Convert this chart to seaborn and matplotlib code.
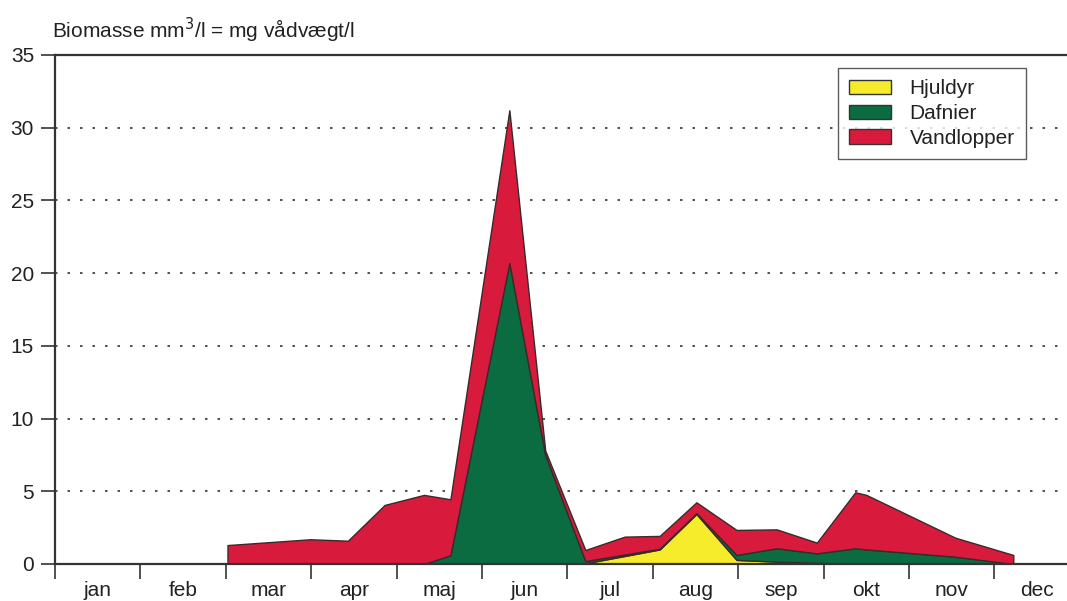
import numpy as np
import matplotlib
matplotlib.use("Agg")
import matplotlib.pyplot as plt
import seaborn as sns

# Maanedsnavne og positioner (x i maaneder fra 1. januar)
months = ["jan", "feb", "mar", "apr", "maj", "jun", "jul", "aug", "sep", "okt", "nov", "dec"]

sample_month = [0.0, 2.02, 2.02, 2.99, 3.43, 3.86, 4.32, 4.63, 5.32, 5.74, 6.21,
                6.67, 7.08, 7.51, 7.98, 8.45, 8.92, 9.37, 9.50, 10.54, 11.22, 11.22, 11.9]

# Kumulative kurver aflaest fra figuren
hjuldyr_top = [0, 0, 0, 0, 0, 0, 0, 0, 0.05, 0, 0.05,
               0.55, 1.0, 3.44, 0.28, 0.16, 0.08, 0.02, 0.0, 0, 0, 0, 0]
dafnier_top = [0, 0, 0, 0, 0, 0, 0, 0.6, 20.7, 7.5, 0.2,
               0.65, 1.05, 3.5, 0.62, 1.08, 0.73, 1.08, 1.0, 0.5, 0.0, 0, 0]
total_top = [0, 0, 1.3, 1.7, 1.6, 4.06, 4.75, 4.45, 31.2, 7.8, 0.96,
             1.88, 1.93, 4.24, 2.34, 2.38, 1.47, 4.93, 4.75, 1.81, 0.62, 0, 0]

hjuldyr = np.array(hjuldyr_top)
dafnier = np.array(dafnier_top) - hjuldyr
vandlopper = np.array(total_top) - np.array(dafnier_top)

sns.set_style("white")
plt.rcParams['font.family'] = ['Liberation Sans', 'DejaVu Sans']

fig = plt.figure(figsize=(10.67, 6.01), dpi=100)
ax = fig.add_axes([0.0515, 0.0616, 0.9606, 0.8469])

colors = ["#F6EC2C", "#0B6B41", "#D81B3C"]
labels = ["Hjuldyr", "Dafnier", "Vandlopper"]
ax.stackplot(sample_month, hjuldyr, dafnier, vandlopper, colors=colors, labels=labels,
             edgecolor="#3a2a2a", linewidth=1.0)

ax.set_xlim(0, 12)
ax.set_ylim(0, 35)
ax.set_yticks(range(0, 36, 5))
for yv in range(5, 35, 5):
    ax.axhline(yv, color="#333333", linestyle=(0, (1.5, 6)), linewidth=1.2, zorder=0)

ax.set_xticks(range(0, 13))
ax.set_xticklabels([])
ax.set_xticks(np.arange(0.5, 12, 1), minor=True)
ax.set_xticklabels(months, minor=True)
ax.tick_params(axis="x", which="major", direction="out", length=11, width=1.2, color="#333333", bottom=True)
ax.tick_params(axis="x", which="minor", length=0, labelsize=15, pad=12, bottom=True, labelcolor="#222222")
ax.tick_params(axis="y", direction="out", length=10, width=1.2, color="#333333", labelsize=15,
               left=True, pad=5, labelcolor="#222222")

for side in ["left", "top", "bottom"]:
    ax.spines[side].set_color("#333333")
    ax.spines[side].set_linewidth(1.6)
ax.spines["right"].set_visible(False)

fig.text(0.049, 0.925, "Biomasse mm$^3$/l = mg vådvægt/l", fontsize=15, color="#222222",
         ha="left", va="bottom")

leg = ax.legend(loc="upper left", bbox_to_anchor=(0.785, 0.887), bbox_transform=fig.transFigure,
                borderaxespad=0, fontsize=15, frameon=True, fancybox=False, edgecolor="#333333",
                handlelength=2.0, handleheight=0.7, handletextpad=0.9,
                labelspacing=0.28, borderpad=0.55)
leg.get_frame().set_linewidth(1.0)
for h in leg.legend_handles:
    h.set_edgecolor("#333333")
for t in leg.get_texts():
    t.set_color("#222222")

fig.savefig("out.png", dpi=100)
